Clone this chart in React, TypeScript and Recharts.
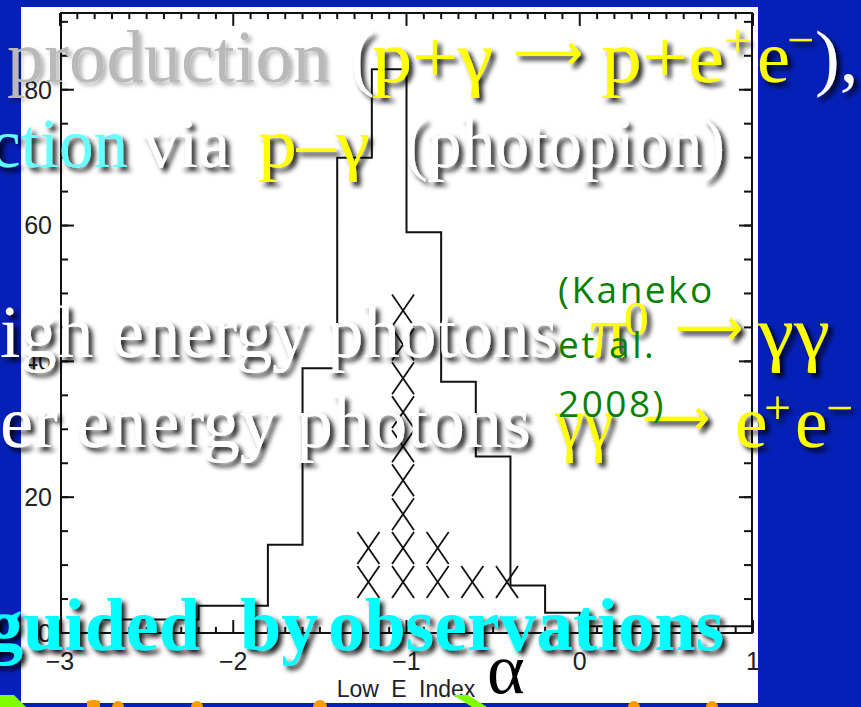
import React from 'react'
import { ComposedChart, Line, Scatter, XAxis, YAxis, ReferenceLine } from 'recharts'

const W = 861
const H = 707
const BLUE = '#0520b6'
const YELLOW = '#ffff00'
const WHITE = '#ffffff'
const SERIF = '"Liberation Serif", "Times New Roman", serif'
const SANS = '"Liberation Sans", Arial, sans-serif'

// histogram of the low-energy index: left edge of each 0.2 bin and its count
const binStarts = [-3.0, -2.8, -2.6, -2.4, -2.2, -2.0, -1.8, -1.6, -1.4, -1.2, -1.0, -0.8, -0.6, -0.4, -0.2, 0.0, 0.2, 0.4, 0.6, 0.8, 1.0]
const binCounts = [0, 2, 2, 2, 4, 4, 13, 39, 70, 83, 59, 37, 26, 7, 3, 1, 1, 1, 1, 1, 1]

// second sample, one cross per 5 counts, stacked in columns
const crossColumns = [-1.22, -1.02, -0.82, -0.62, -0.42]
const crossStacks = [2, 9, 2, 1, 1]
const crossBase = 7.5
const crossStep = 5

// axis ticks
const xMajor = [-3, -2, -1, 0, 1]
const yMajor = [0, 20, 40, 60, 80]
const xMinor = Array.from({ length: 41 }, (_, i) => Math.round((-3 + i * 0.1) * 10) / 10)
const yMinor = Array.from({ length: 19 }, (_, i) => i * 5)
const xDomain: [number, number] = [-3, 1]
const yDomain: [number, number] = [0, 91.3]
// inward x tick lengths, in counts
const X_TICK_MINOR = 0.9
const X_TICK_MAJOR = 1.9

const histData = binStarts.map((x, i) => ({ x, y: binCounts[i] }))
const crossData = crossColumns.flatMap((x, i) =>
  Array.from({ length: crossStacks[i] }, (_, k) => ({ x, y: crossBase + k * crossStep }))
)

const fmt = (v: number) => (v < 0 ? '\u2212' + Math.abs(v) : String(v))

const Cross = (props: any) => {
  const { cx, cy } = props
  if (cx == null || cy == null) return null
  return (
    <g stroke="#111" strokeWidth={1.8}>
      <line x1={cx - 11} y1={cy - 16} x2={cx + 11} y2={cy + 16} />
      <line x1={cx - 11} y1={cy + 16} x2={cx + 11} y2={cy - 16} />
    </g>
  )
}

// tick marks only, no label
const NoLabel = () => <g />

const frame = { stroke: '#111', strokeWidth: 2 }
const tickStroke = { stroke: '#111', strokeWidth: 2 }

// one stretch of slide text, optionally squeezed to a set width
type SegProps = {
  x: number
  y: number
  w?: number
  size?: number
  fill: string
  bold?: boolean
  font?: string
  shadow?: string
  children: React.ReactNode
}
const Seg = ({ x, y, w, size = 74, fill, bold, font = SERIF, shadow = 'url(#drop)', children }: SegProps) => (
  <text x={x} y={y} fontSize={size} fontFamily={font} fontWeight={bold ? 'bold' : 'normal'} fill={fill}
    filter={shadow || undefined}
    {...(w ? { textLength: w, lengthAdjust: 'spacingAndGlyphs' } : {})}>
    {children}
  </text>
)

const ARROW = '\u27F6'
const ARROW_FONT = '"DejaVu Sans", sans-serif'

const App = () => {
  return (
    <div style={{ position: 'absolute', left: 0, top: 0, width: W, height: H, overflow: 'hidden', background: BLUE }}>
      <div style={{ position: 'absolute', left: 21, top: 7, width: 737, height: 696, background: '#fff' }} />

      <div style={{ position: 'absolute', left: 0, top: 0 }}>
        <ComposedChart width={W} height={H} margin={{ top: 13, right: 108, bottom: 44, left: 20 }}>
          {/* labelled axes */}
          <XAxis xAxisId="x" type="number" dataKey="x" domain={xDomain} allowDataOverflow ticks={xMajor} interval={0}
            axisLine={false} tickLine={false} tickSize={0} tickMargin={19} height={30}
            tick={{ fill: '#222', fontSize: 25, fontFamily: SANS }} tickFormatter={fmt} />
          <YAxis yAxisId="y" type="number" dataKey="y" domain={yDomain} allowDataOverflow ticks={yMajor} interval={0}
            axisLine={false} tickLine={false} tickSize={0} tickMargin={8} width={40}
            tick={{ fill: '#222', fontSize: 25, fontFamily: SANS }} />

          {/* frame */}
          <XAxis xAxisId="bottom" type="number" domain={xDomain} allowDataOverflow ticks={xMajor} interval={0}
            orientation="bottom" mirror height={1} tick={NoLabel} tickSize={0} axisLine={frame} tickLine={false} />
          <XAxis xAxisId="top" type="number" domain={xDomain} allowDataOverflow ticks={xMajor} interval={0}
            orientation="top" mirror height={1} tick={NoLabel} tickSize={0} axisLine={frame} tickLine={false} />
          <YAxis yAxisId="lMinor" type="number" domain={yDomain} allowDataOverflow ticks={yMinor} interval={0}
            orientation="left" mirror width={1} tick={NoLabel} tickSize={7} axisLine={frame} tickLine={tickStroke} />
          <YAxis yAxisId="lMajor" type="number" domain={yDomain} allowDataOverflow ticks={yMajor} interval={0}
            orientation="left" mirror width={1} tick={NoLabel} tickSize={14} axisLine={false} tickLine={tickStroke} />
          <YAxis yAxisId="rMinor" type="number" domain={yDomain} allowDataOverflow ticks={yMinor} interval={0}
            orientation="right" mirror width={1} tick={NoLabel} tickSize={8} axisLine={frame} tickLine={tickStroke} />
          <YAxis yAxisId="rMajor" type="number" domain={yDomain} allowDataOverflow ticks={yMajor} interval={0}
            orientation="right" mirror width={1} tick={NoLabel} tickSize={14} axisLine={false} tickLine={tickStroke} />

          {/* inward x ticks along the top and bottom edges */}
          {xMinor.map((v) => {
            const len = xMajor.includes(v) ? X_TICK_MAJOR : X_TICK_MINOR
            return [
              <ReferenceLine key={`b${v}`} xAxisId="x" yAxisId="y" ifOverflow="visible" stroke="#111" strokeWidth={2}
                segment={[{ x: v, y: yDomain[0] }, { x: v, y: yDomain[0] + len }]} />,
              <ReferenceLine key={`t${v}`} xAxisId="x" yAxisId="y" ifOverflow="visible" stroke="#111" strokeWidth={2}
                segment={[{ x: v, y: yDomain[1] }, { x: v, y: yDomain[1] - len }]} />,
            ]
          })}

          <Line xAxisId="x" yAxisId="y" data={histData} dataKey="y" type="stepAfter" stroke="#111" strokeWidth={2}
            dot={false} activeDot={false} isAnimationActive={false} />
          <Scatter xAxisId="x" yAxisId="y" data={crossData} dataKey="y" shape={Cross} isAnimationActive={false} />
        </ComposedChart>
      </div>

      <svg width={W} height={H} style={{ position: 'absolute', left: 0, top: 0, pointerEvents: 'none' }}>
        <defs>
          <filter id="drop" x="-20%" y="-30%" width="150%" height="170%">
            <feDropShadow dx="4" dy="4" stdDeviation="2.6" floodColor="#000" floodOpacity="0.9" />
          </filter>
          <filter id="dropSoft" x="-10%" y="-30%" width="130%" height="170%">
            <feDropShadow dx="3" dy="3" stdDeviation="2" floodColor="#000" floodOpacity="0.3" />
          </filter>
        </defs>

        <text x={406} y={697} textAnchor="middle" fontSize={23} wordSpacing={6} fontFamily={SANS} fill="#222">Low E Index</text>
        <text x={487} y={693} fontSize={72} fontFamily={SERIF} fill="#000">α</text>

        {/* line 1 */}
        <Seg x={7} y={82} w={323} fill="#b9b9b9" shadow="url(#dropSoft)">production</Seg>
        <Seg x={350} y={82} fill={WHITE}>(</Seg>
        <Seg x={372} y={82} w={121} fill={YELLOW}>p+γ</Seg>
        <Seg x={513} y={70} w={70} size={52} font={ARROW_FONT} fill={YELLOW}>{ARROW}</Seg>
        <Seg x={601} y={82} w={123} fill={YELLOW}>p+e</Seg>
        <Seg x={724} y={57} size={48} fill={YELLOW}>+</Seg>
        <Seg x={757} y={82} fill={YELLOW}>e</Seg>
        <Seg x={787} y={56} size={48} fill={YELLOW}>−</Seg>
        <Seg x={815} y={82} fill={WHITE}>),</Seg>

        {/* line 2 */}
        <Seg x={-10} y={167} w={138} size={70} fill="#66ffff">ction</Seg>
        <Seg x={143} y={167} w={87} size={70} fill={WHITE}>via</Seg>
        <Seg x={258} y={167} w={112} size={70} fill={YELLOW}>p–γ</Seg>
        <Seg x={405} y={167} w={320} size={70} fill={WHITE}>(photopion)</Seg>

        {/* line 3 */}
        <Seg x={0} y={357} w={558} size={73} fill={WHITE}>igh energy photons</Seg>
        <Seg x={590} y={357} size={73} fill={YELLOW}>π</Seg>
        <Seg x={624} y={335} size={49} fill={YELLOW}>0</Seg>
        <Seg x={675} y={345} w={68} size={52} font={ARROW_FONT} fill={YELLOW}>{ARROW}</Seg>
        <Seg x={758} y={357} w={72} size={73} fill={YELLOW}>γγ</Seg>

        {/* line 4 */}
        <Seg x={0} y={447} w={531} size={73} fill={WHITE}>er energy photons</Seg>
        <Seg x={555} y={447} w={58} size={73} fill={YELLOW}>γγ</Seg>
        <Seg x={642} y={435} w={68} size={52} font={ARROW_FONT} fill={YELLOW}>{ARROW}</Seg>
        <Seg x={735} y={447} size={73} fill={YELLOW}>e</Seg>
        <Seg x={764} y={424} size={48} fill={YELLOW}>+</Seg>
        <Seg x={795} y={447} size={73} fill={YELLOW}>e</Seg>
        <Seg x={826} y={424} size={48} fill={YELLOW}>−</Seg>

        {/* line 5 */}
        <Seg x={-14} y={650} bold fill="#00ffff">guided</Seg>
        <Seg x={240} y={650} bold fill="#00ffff">by</Seg>
        <Seg x={328} y={650} w={396} bold fill="#00ffff">observations</Seg>

        <text fontSize={37} letterSpacing={2.5} fontFamily='"Open Sans", sans-serif' fill="#088008">
          <tspan x={558} y={303}>(Kaneko</tspan>
          <tspan x={558} y={358}>et al.</tspan>
          <tspan x={558} y={417}>2008)</tspan>
        </text>

        {/* tops of the next slide line peeking in at the bottom */}
        <polygon points="0,695 14,695 26,707 0,707" fill="#7fff00" />
        <polygon points="453,695 468,695 487,707 472,707" fill="#7fff00" />
        <g fill="#ff9900">
          <path d="M87,707 L87,701 Q94,699 100,701 L100,707 Z" />
          <circle cx={118} cy={707} r={6} />
          <circle cx={197} cy={707} r={6} />
          <circle cx={320} cy={707} r={7} />
          <circle cx={634} cy={707} r={6} />
          <circle cx={712} cy={707} r={6} />
        </g>
      </svg>
    </div>
  )
}

export default App
